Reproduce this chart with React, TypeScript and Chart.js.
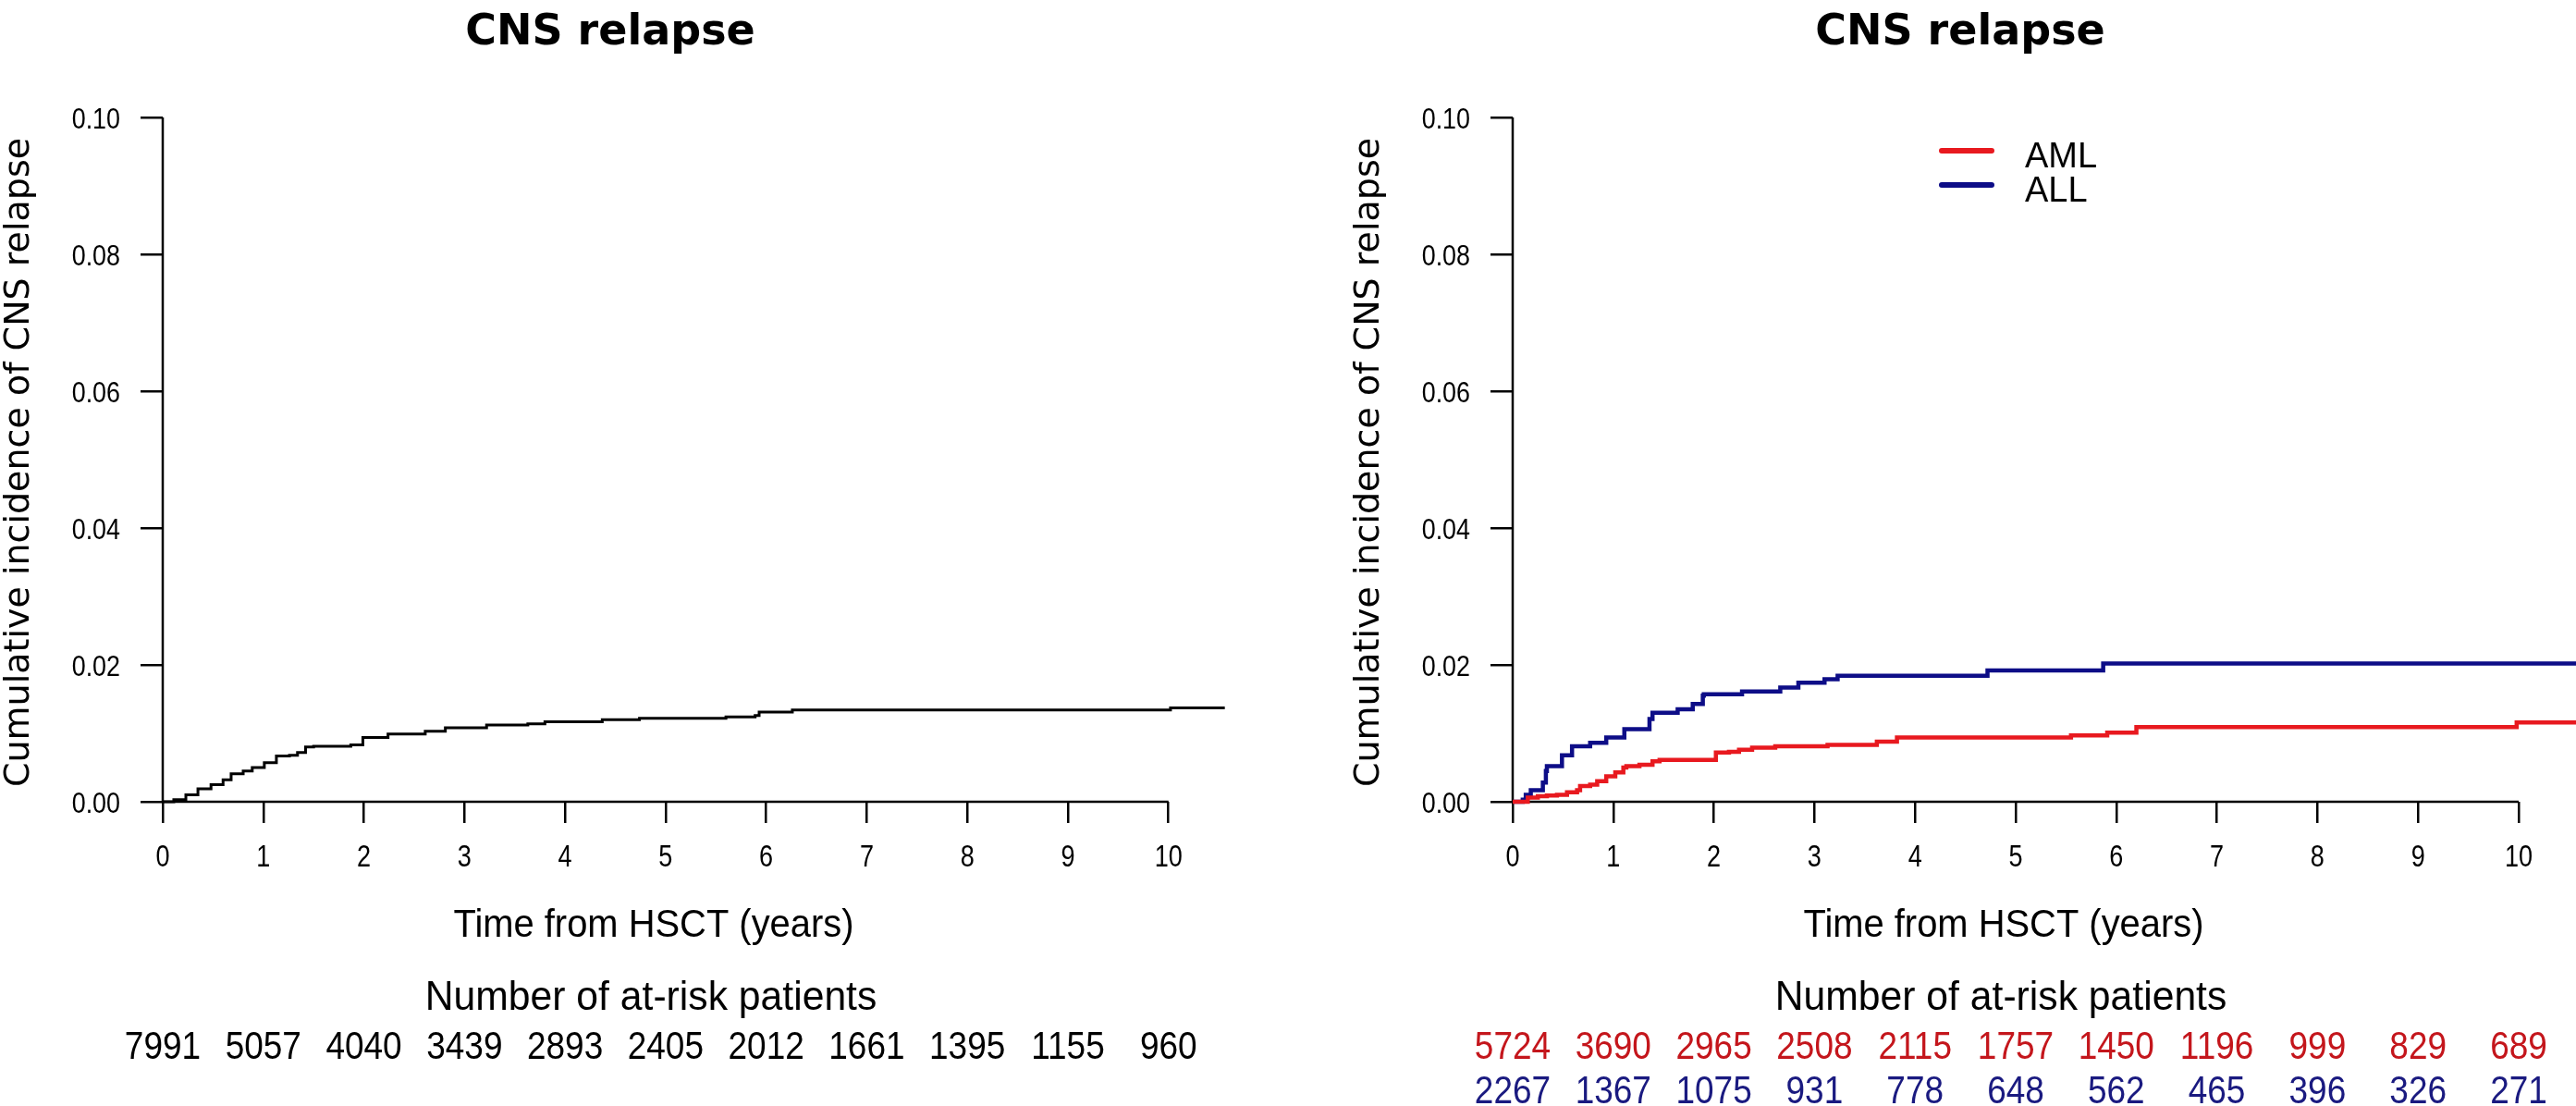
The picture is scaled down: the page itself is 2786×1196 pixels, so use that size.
import React, { useEffect, useRef } from 'react';
import { Chart, registerables } from 'chart.js';

Chart.register(...registerables);

// ---------- data ----------
const xTicks = [0, 1, 2, 3, 4, 5, 6, 7, 8, 9, 10];
const xTickLabels = ['0', '1', '2', '3', '4', '5', '6', '7', '8', '9', '10'];
const yTicks = [0, 0.02, 0.04, 0.06, 0.08, 0.1];
const yTickLabels = ['0.00', '0.02', '0.04', '0.06', '0.08', '0.10'];

const titleText = 'CNS relapse';
const yTitleText = 'Cumulative incidence of CNS relapse';
const xTitleText = 'Time from HSCT (years)';
const atRiskTitle = 'Number of at-risk patients';

// overall cumulative incidence (left panel)
const overallTime = [0, 0.11, 0.23, 0.35, 0.48, 0.6, 0.68, 0.8, 0.89, 1.01, 1.13, 1.26, 1.34, 1.42, 1.5, 1.87, 1.99, 2.24, 2.61, 2.81, 3.22, 3.63, 3.8, 4.37, 4.74, 5.6, 5.89, 5.93, 6.26, 10.02, 10.56];
const overallCI = [0, 0.0003, 0.001, 0.0019, 0.0025, 0.0032, 0.0041, 0.0045, 0.005, 0.0057, 0.0067, 0.0068, 0.0072, 0.008, 0.0081, 0.0083, 0.0094, 0.0099, 0.0103, 0.0108, 0.0112, 0.0114, 0.0117, 0.012, 0.0122, 0.0124, 0.0126, 0.0131, 0.0134, 0.0137, 0.0137];

// AML (right panel, red)
const amlTime = [0, 0.15, 0.25, 0.34, 0.44, 0.54, 0.64, 0.67, 0.77, 0.84, 0.93, 1.02, 1.1, 1.13, 1.26, 1.39, 1.46, 2.02, 2.15, 2.25, 2.38, 2.61, 3.13, 3.62, 3.82, 5.55, 5.91, 6.2, 9.98, 10.57];
const amlCI = [0, 0.0006, 0.0008, 0.0009, 0.001, 0.0014, 0.0017, 0.0023, 0.0025, 0.003, 0.0037, 0.0043, 0.005, 0.0052, 0.0054, 0.0059, 0.0061, 0.0072, 0.0073, 0.0076, 0.0079, 0.0081, 0.0083, 0.0088, 0.0094, 0.0097, 0.0101, 0.0109, 0.0116, 0.0116];

// ALL (right panel, blue)
const allTime = [0, 0.1, 0.13, 0.18, 0.3, 0.33, 0.34, 0.49, 0.59, 0.77, 0.93, 1.11, 1.36, 1.39, 1.64, 1.79, 1.89, 1.9, 2.28, 2.66, 2.84, 3.1, 3.23, 4.72, 5.87, 10.57];
const allCI = [0, 0.0003, 0.001, 0.0017, 0.0028, 0.0045, 0.0052, 0.0068, 0.0081, 0.0086, 0.0094, 0.0106, 0.0121, 0.013, 0.0135, 0.0143, 0.0155, 0.0157, 0.0161, 0.0167, 0.0174, 0.0179, 0.0184, 0.0192, 0.0202, 0.0202];

const atRiskOverall = [7991, 5057, 4040, 3439, 2893, 2405, 2012, 1661, 1395, 1155, 960];
const atRiskAML = [5724, 3690, 2965, 2508, 2115, 1757, 1450, 1196, 999, 829, 689];
const atRiskALL = [2267, 1367, 1075, 931, 778, 648, 562, 465, 396, 326, 271];

const legendLabels = ['AML', 'ALL'];

// ---------- styling ----------
const W = 1393;
const H = 1196;
const RED = '#e8191f';
const BLUE = '#0d0d87';
const RED_TXT = '#c4161c';
const BLUE_TXT = '#1a1a80';
const LIB = '"Liberation Sans", Arial, sans-serif';
const DEJ = '"DejaVu Sans", sans-serif';

function drawText(ctx: CanvasRenderingContext2D, text: string, x: number, y: number, font: string, sx: number, align: string, color: string) {
  ctx.save();
  ctx.font = font;
  ctx.fillStyle = color;
  ctx.textBaseline = 'alphabetic';
  ctx.textAlign = 'left';
  const w = ctx.measureText(text).width * sx;
  const left = align === 'center' ? x - w / 2 : align === 'right' ? x - w : x;
  ctx.translate(left, y);
  ctx.scale(sx, 1);
  ctx.fillText(text, 0, 0);
  ctx.restore();
}

type Row = { values: number[]; color: string };
type PanelCfg = {
  plotLeft: number;
  padRight: number;
  xMax: number;
  datasets: any[];
  rows: Row[];
  legend: boolean;
};

function makePlugin(cfg: PanelCfg) {
  return {
    id: 'panelDecor',
    beforeDatasetsDraw(chart: any) {
      const { ctx } = chart;
      const x = chart.scales.x;
      const y = chart.scales.y;
      const x0 = x.getPixelForValue(xTicks[0]);
      const x1 = x.getPixelForValue(xTicks[xTicks.length - 1]);
      const y0 = y.getPixelForValue(yTicks[0]);
      const y1 = y.getPixelForValue(yTicks[yTicks.length - 1]);
      ctx.save();
      ctx.strokeStyle = '#000';
      ctx.lineWidth = 2.5;
      ctx.beginPath();
      ctx.moveTo(x0, y0);
      ctx.lineTo(x1, y0);
      ctx.moveTo(x0, y0 + 1.25);
      ctx.lineTo(x0, y1);
      ctx.stroke();
      ctx.restore();
    },
    afterDraw(chart: any) {
      const { ctx, chartArea } = chart;
      const x = chart.scales.x;
      const y = chart.scales.y;
      const L = chartArea.left;
      // title
      drawText(ctx, titleText, L + 484, 48, `bold 46px ${DEJ}`, 1, 'center', '#000');
      // y title
      ctx.save();
      ctx.font = `38px ${DEJ}`;
      ctx.fillStyle = '#000';
      ctx.textAlign = 'center';
      ctx.textBaseline = 'alphabetic';
      ctx.translate(L - 145, (chartArea.top + chartArea.bottom) / 2 + 3);
      ctx.rotate(-Math.PI / 2);
      ctx.fillText(yTitleText, 0, 0);
      ctx.restore();
      // y tick labels
      yTicks.forEach((v, i) => {
        drawText(ctx, yTickLabels[i], L - 46, y.getPixelForValue(v) + 12, `32px ${LIB}`, 0.84, 'right', '#000');
      });
      // x tick labels
      xTicks.forEach((v, i) => {
        drawText(ctx, xTickLabels[i], x.getPixelForValue(v), 937, `33px ${LIB}`, 0.82, 'center', '#000');
      });
      // x title
      drawText(ctx, xTitleText, L + 531, 1013, `42px ${LIB}`, 0.95, 'center', '#000');
      // at-risk
      drawText(ctx, atRiskTitle, L + 528, 1092, `44px ${LIB}`, 0.97, 'center', '#000');
      cfg.rows.forEach((row, r) => {
        row.values.forEach((n, i) => {
          drawText(ctx, String(n), x.getPixelForValue(xTicks[i]), 1145 + r * 48, `43px ${LIB}`, 0.86, 'center', row.color);
        });
      });
      // legend
      if (cfg.legend) {
        legendLabels.forEach((lab, i) => {
          const ds = chart.data.datasets.find((d: any) => d.label === lab);
          const ly = chartArea.top + 36 + i * 37;
          ctx.save();
          ctx.strokeStyle = ds.borderColor;
          ctx.lineWidth = 6;
          ctx.lineCap = 'round';
          ctx.beginPath();
          ctx.moveTo(L + 464, ly);
          ctx.lineTo(L + 518, ly);
          ctx.stroke();
          ctx.restore();
          drawText(ctx, lab, L + 554, ly + 18, `38px ${LIB}`, 1, 'left', '#000');
        });
      }
    },
  };
}

function Panel({ cfg }: { cfg: PanelCfg }) {
  const ref = useRef<HTMLCanvasElement>(null);
  useEffect(() => {
    const canvas = ref.current;
    if (!canvas) return;
    const plotTop = 127;
    const plotBottom = 867;
    const chart = new Chart(canvas, {
      type: 'line',
      data: { datasets: cfg.datasets },
      options: {
        animation: false,
        responsive: false,
        devicePixelRatio: 1,
        layout: { padding: { left: 0, right: cfg.padRight, top: plotTop, bottom: 0 } },
        plugins: {
          legend: { display: false },
          tooltip: { enabled: false },
          title: { display: false },
        },
        scales: {
          x: {
            type: 'linear',
            min: 0,
            max: cfg.xMax,
            afterBuildTicks: (s: any) => {
              s.ticks = xTicks.map((v) => ({ value: v }));
            },
            afterFit: (s: any) => {
              s.height = H - plotBottom;
            },
            ticks: { display: false },
            border: { display: false },
            grid: { display: true, drawOnChartArea: false, drawTicks: true, tickLength: 23, color: '#000', lineWidth: 2.5 },
          },
          y: {
            type: 'linear',
            min: 0,
            max: 0.1,
            afterBuildTicks: (s: any) => {
              s.ticks = yTicks.map((v) => ({ value: v }));
            },
            afterFit: (s: any) => {
              s.width = cfg.plotLeft;
            },
            ticks: { display: false },
            border: { display: false },
            grid: { display: true, drawOnChartArea: false, drawTicks: true, tickLength: 24, color: '#000', lineWidth: 2.5 },
          },
        },
      } as any,
      plugins: [makePlugin(cfg)],
    });
    return () => chart.destroy();
  }, []);
  return <canvas ref={ref} width={W} height={H} style={{ display: 'block', width: W, height: H }} />;
}

const toPts = (t: number[], c: number[]) => t.map((v, i) => ({ x: v, y: c[i] }));

const leftCfg: PanelCfg = {
  plotLeft: 176,
  padRight: 64,
  xMax: 10.6,
  datasets: [
    {
      label: 'All patients',
      data: toPts(overallTime, overallCI),
      borderColor: '#000',
      borderWidth: 3,
      pointRadius: 0,
      stepped: true,
      fill: false,
      clip: false,
    },
  ],
  rows: [{ values: atRiskOverall, color: '#000' }],
  legend: false,
};

const rightCfg: PanelCfg = {
  plotLeft: 243,
  padRight: 0,
  xMax: 10.57,
  datasets: [
    {
      label: 'AML',
      data: toPts(amlTime, amlCI),
      borderColor: RED,
      borderWidth: 4.5,
      pointRadius: 0,
      stepped: true,
      fill: false,
      clip: false,
    },
    {
      label: 'ALL',
      data: toPts(allTime, allCI),
      borderColor: BLUE,
      borderWidth: 4.5,
      pointRadius: 0,
      stepped: true,
      fill: false,
      clip: false,
    },
  ],
  rows: [
    { values: atRiskAML, color: RED_TXT },
    { values: atRiskALL, color: BLUE_TXT },
  ],
  legend: true,
};

export default function App() {
  return (
    <div style={{ position: 'absolute', left: 0, top: 0, width: 2786, height: 1196, background: '#fff', display: 'flex', overflow: 'hidden' }}>
      <Panel cfg={leftCfg} />
      <Panel cfg={rightCfg} />
    </div>
  );
}
